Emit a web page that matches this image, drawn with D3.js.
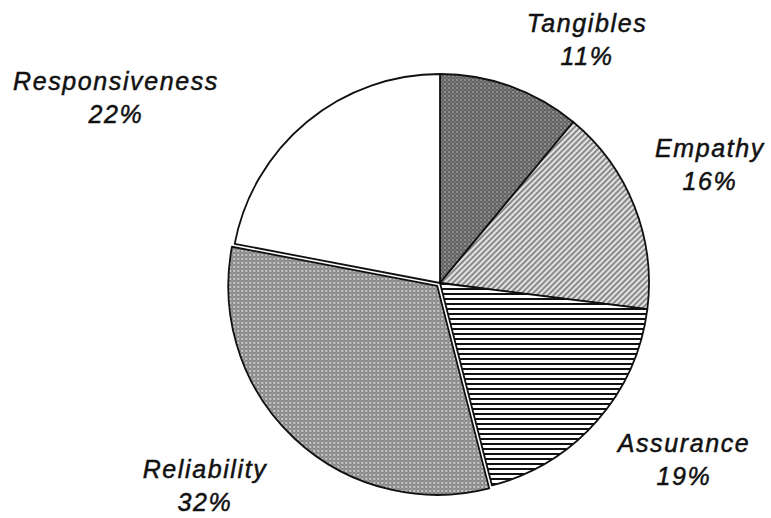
<!DOCTYPE html>
<html>
<head>
<meta charset="utf-8">
<script src="https://cdn.jsdelivr.net/npm/d3@7/dist/d3.min.js"></script>
<style>
  html, body { margin: 0; padding: 0; background: #fff; }
  svg { display: block; }
  text { font-family: "Liberation Sans", Arial, sans-serif; font-style: italic; font-size: 25px; letter-spacing: 1.6px; fill: #111; stroke: #111; stroke-width: 0.5px; }
</style>
</head>
<body>
<svg id="chart" width="771" height="518"></svg>
<script>
// Service quality dimensions, clockwise from 12 o'clock
const categories = ["Tangibles", "Empathy", "Assurance", "Reliability", "Responsiveness"];
const shares = [11, 16, 19, 32, 22];
const percentLabels = ["11%", "16%", "19%", "32%", "22%"];

// Label anchors (centre of the two-line label, baseline of first line)
const labelAnchors = [[587, 32], [710, 157], [684, 452], [205, 478], [116, 90]];
const fillIds = ["pTangibles", "pEmpathy", "pAssurance", "pReliability", "pResponsiveness"];
const exploded = [0, 0, 0, 4, 0];

const svg = d3.select("#chart");
const cx = 440, cy = 283, radius = 209;

const defs = svg.append("defs");

// dotted dark grey
const p1 = defs.append("pattern").attr("id", "pTangibles").attr("width", 4).attr("height", 4).attr("patternUnits", "userSpaceOnUse");
p1.append("rect").attr("width", 4).attr("height", 4).attr("fill", "#626262");
p1.append("rect").attr("width", 2).attr("height", 2).attr("fill", "#8e8e8e");
p1.append("rect").attr("x", 2).attr("y", 2).attr("width", 2).attr("height", 2).attr("fill", "#767676");

// diagonal hatch, light grey
const p2 = defs.append("pattern").attr("id", "pEmpathy").attr("width", 4).attr("height", 4).attr("patternUnits", "userSpaceOnUse").attr("patternTransform", "rotate(45)");
p2.append("rect").attr("width", 4).attr("height", 4).attr("fill", "#e2e2e2");
p2.append("rect").attr("width", 2).attr("height", 4).attr("fill", "#8a8a8a");

// horizontal black lines
const p3 = defs.append("pattern").attr("id", "pAssurance").attr("width", 10).attr("height", 5).attr("patternUnits", "userSpaceOnUse");
p3.append("rect").attr("width", 10).attr("height", 5).attr("fill", "#fff");
p3.append("rect").attr("y", 0).attr("width", 10).attr("height", 2).attr("fill", "#111");

// dotted mid grey
const p4 = defs.append("pattern").attr("id", "pReliability").attr("width", 4).attr("height", 4).attr("patternUnits", "userSpaceOnUse");
p4.append("rect").attr("width", 4).attr("height", 4).attr("fill", "#858585");
p4.append("rect").attr("width", 2).attr("height", 2).attr("fill", "#cccccc");
p4.append("rect").attr("x", 2).attr("y", 2).attr("width", 2).attr("height", 2).attr("fill", "#989898");

// plain white
const p5 = defs.append("pattern").attr("id", "pResponsiveness").attr("width", 4).attr("height", 4).attr("patternUnits", "userSpaceOnUse");
p5.append("rect").attr("width", 4).attr("height", 4).attr("fill", "#fff");

const pie = d3.pie().sort(null).value(d => d)(shares);
const arc = d3.arc().innerRadius(0).outerRadius(radius);

const g = svg.append("g").attr("transform", `translate(${cx},${cy})`);

g.selectAll("path.slice")
  .data(pie)
  .join("path")
  .attr("class", "slice")
  .attr("d", arc)
  .attr("transform", (d, i) => {
    const a = (d.startAngle + d.endAngle) / 2;
    const o = exploded[i];
    return `translate(${o * Math.sin(a)},${-o * Math.cos(a)})`;
  })
  .attr("fill", (d, i) => `url(#${fillIds[i]})`)
  .attr("stroke", "#111")
  .attr("stroke-width", 1.8)
  .attr("stroke-linejoin", "round");

const labels = svg.append("g");
categories.forEach((name, i) => {
  const [x, y] = labelAnchors[i];
  const t = labels.append("text").attr("text-anchor", "middle");
  t.append("tspan").attr("x", x).attr("y", y).text(name);
  t.append("tspan").attr("x", x).attr("y", y + 33).text(percentLabels[i]);
});
</script>
</body>
</html>
